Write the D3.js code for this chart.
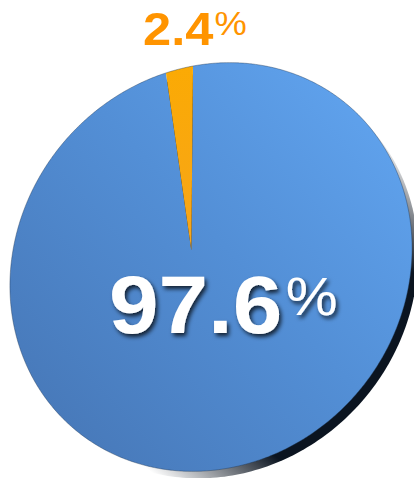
<!DOCTYPE html>
<html>
<head>
<meta charset="utf-8">
<script src="https://cdn.jsdelivr.net/npm/d3@7"></script>
<style>
  html, body { margin: 0; padding: 0; background: #fff; }
  text { font-family: "Liberation Sans", Arial, Helvetica, sans-serif; }
</style>
</head>
<body>
<div id="chart"></div>
<script>
// slice data
var categories = ["main", "small"];
var values = [97.6, 2.4];
var sliceColors = ["url(#blueGrad)", "url(#orangeGrad)"];

var width = 414, height = 478;

// projected (tilted) disc: ellipse centre, semi axes, rotation, perspective shift
var cx = 211, cy = 267, ra = 212, rb = 193;
var phi = 50 * Math.PI / 180;
var tilt = 0.133;
var depth = [6, 7];
var startDeg = 47.6;

var svg = d3.select("#chart").append("svg")
  .attr("width", width)
  .attr("height", height);

var defs = svg.append("defs");

var bg = defs.append("linearGradient").attr("id", "blueGrad")
  .attr("gradientUnits", "userSpaceOnUse")
  .attr("x1", 40).attr("y1", 430).attr("x2", 390).attr("y2", 110);
bg.append("stop").attr("offset", "0%").attr("stop-color", "#4778b8");
bg.append("stop").attr("offset", "55%").attr("stop-color", "#538fd6");
bg.append("stop").attr("offset", "100%").attr("stop-color", "#60a3ee");

var og = defs.append("linearGradient").attr("id", "orangeGrad")
  .attr("x1", 0).attr("y1", 0).attr("x2", 0).attr("y2", 1);
og.append("stop").attr("offset", "0%").attr("stop-color", "#fbaa04");
og.append("stop").attr("offset", "100%").attr("stop-color", "#f7a51a");

// side band fades out at both ends
var sg = defs.append("linearGradient").attr("id", "sideGrad")
  .attr("gradientUnits", "userSpaceOnUse")
  .attr("x1", 170).attr("y1", 485).attr("x2", 425).attr("y2", 165);
[[0, 0], [0.22, 1], [0.78, 1], [1, 0]].forEach(function (s) {
  sg.append("stop").attr("offset", s[0]).attr("stop-color", "#0b1420").attr("stop-opacity", s[1]);
});

var f = defs.append("filter").attr("id", "shadow")
  .attr("x", "-20%").attr("y", "-20%").attr("width", "140%").attr("height", "140%");
f.append("feDropShadow").attr("dx", 2).attr("dy", 3).attr("stdDeviation", 2)
  .attr("flood-color", "#000").attr("flood-opacity", 0.75);

// map a pie angle (clockwise from 12 o'clock) on the unit circle to the screen
function project(ang, r) {
  var x = r * Math.sin(ang), y = -r * Math.cos(ang);
  // perspective shift along local -y
  var s = tilt, g = 1 / Math.sqrt(1 - s * s);
  var par = -y, perp = x;
  var p2 = g * (par + s), w2 = g * (1 + s * par);
  var lx = perp / w2, ly = -p2 / w2;
  return [
    cx + lx * ra * Math.cos(phi) + ly * rb * Math.sin(phi),
    cy - lx * ra * Math.sin(phi) + ly * rb * Math.cos(phi)
  ];
}

function slicePath(d) {
  var pts = [project(0, 0)];
  var n = Math.max(2, Math.ceil((d.endAngle - d.startAngle) / (Math.PI / 360)));
  for (var k = 0; k <= n; k++) {
    pts.push(project(d.startAngle + (d.endAngle - d.startAngle) * k / n, 1));
  }
  return d3.line()(pts) + "Z";
}

var pie = d3.pie().sort(null)
  .startAngle(startDeg * Math.PI / 180)
  .endAngle(startDeg * Math.PI / 180 + 2 * Math.PI);
var arcs = pie(values);

var color = d3.scaleOrdinal().domain(categories).range(sliceColors);

// disc side
var rim = d3.range(0, 361).map(function (a) { return project(a * Math.PI / 180, 1); });
svg.append("path")
  .attr("d", d3.line()(rim) + "Z")
  .attr("transform", "translate(" + depth[0] + "," + depth[1] + ")")
  .attr("fill", "url(#sideGrad)");

// top face
svg.append("g").selectAll("path").data(arcs).enter()
  .append("path")
  .attr("d", slicePath)
  .attr("fill", function (d, i) { return color(categories[i]); });

svg.append("path")
  .attr("d", d3.line()(rim) + "Z")
  .attr("fill", "none")
  .attr("stroke", "#1d3654")
  .attr("stroke-opacity", 0.4)
  .attr("stroke-width", 1);

// labels
var big = svg.append("text")
  .attr("transform", "translate(109,333) scale(1.1,1)")
  .attr("fill", "#fff")
  .attr("filter", "url(#shadow)");
big.append("tspan").attr("font-size", 81).attr("font-weight", "bold")
  .text(values[0].toFixed(1));
big.append("tspan").attr("font-size", 53).attr("dy", -18).attr("dx", 3)
  .text("%");

var small = svg.append("text")
  .attr("transform", "translate(143,45) scale(1.1,1)")
  .attr("fill", "#ff9400");
small.append("tspan").attr("font-size", 46).attr("font-weight", "bold")
  .text(values[1].toFixed(1));
small.append("tspan").attr("font-size", 33).attr("dy", -10).attr("dx", 1)
  .text("%");
</script>
</body>
</html>
